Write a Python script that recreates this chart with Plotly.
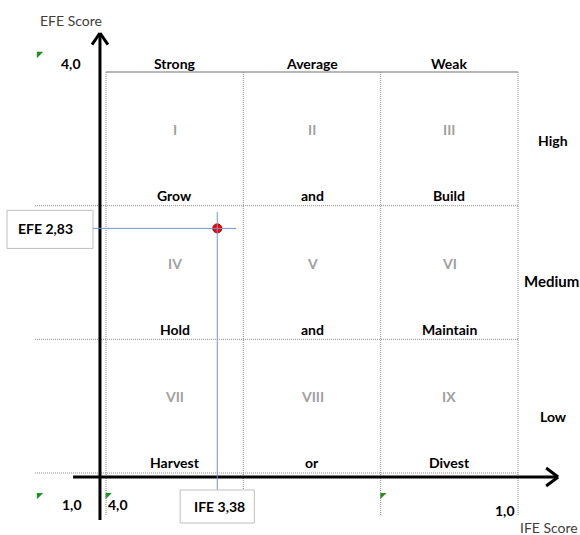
import plotly.graph_objects as go

# ---------------- data ----------------
ife_ticks = [4.0, 3.0, 2.0, 1.0]          # IFE axis (reversed: strong -> weak)
efe_ticks = [4.0, 3.0, 2.0, 1.0]          # EFE axis
col_labels = ["Strong", "Average", "Weak"]
row_labels = ["High", "Medium", "Low"]
cell_numerals = [["I", "II", "III"], ["IV", "V", "VI"], ["VII", "VIII", "IX"]]
cell_strategy = [["Grow", "and", "Build"], ["Hold", "and", "Maintain"], ["Harvest", "or", "Divest"]]
ife_label = "IFE 3,38"
efe_label = "EFE 2,83"
point_ife = 3.19      # marker position as drawn on the IFE scale
point_efe = 2.83
tick_text = {"efe_top": "4,0", "left": "1,0", "ife_left": "4,0", "ife_right": "1,0"}

# ---------------- layout helpers ----------------
FONT = "Lato"
BLACK = "#000000"
GRID = "#8c8c8c"
ife_max, ife_min = max(ife_ticks), min(ife_ticks)
efe_max, efe_min = max(efe_ticks), min(efe_ticks)

fig = go.Figure()
shapes = []
ann = []

def line(x0, y0, x1, y1, color=GRID, width=1, dash="solid"):
    shapes.append(dict(type="line", xref="x", yref="y", x0=x0, y0=y0, x1=x1, y1=y1,
                       line=dict(color=color, width=width, dash=dash), layer="above"))

def text(x, y, s, size=14, bold=True, color=BLACK, xanchor="center"):
    ann.append(dict(x=x, y=y, xref="x", yref="y", text=f"<b>{s}</b>" if bold else s,
                    showarrow=False, xanchor=xanchor, yanchor="middle",
                    font=dict(family=FONT, size=size, color=color)))

# grid: top border solid, others dotted
line(ife_max, efe_max, ife_min, efe_max, color="#6e6e6e", width=1)
for xv in ife_ticks:
    line(xv, efe_max, xv, efe_min - 0.314, dash="1px,1px")
for yv in efe_ticks[1:]:
    line(ife_max + 0.517, yv, ife_min, yv, dash="1px,1px")

# axes with open chevron arrow heads
ax_x = ife_max + 0.044
ax_y = efe_min - 0.030
line(ax_x, efe_min - 0.352, ax_x, efe_max + 0.290, color=BLACK, width=3)
line(ax_x - 0.058, efe_max + 0.205, ax_x, efe_max + 0.292, color=BLACK, width=3)
line(ax_x + 0.058, efe_max + 0.205, ax_x, efe_max + 0.292, color=BLACK, width=3)
line(ife_max + 0.240, ax_y, ife_min - 0.290, ax_y, color=BLACK, width=3)
line(ife_min - 0.205, ax_y + 0.067, ife_min - 0.292, ax_y, color=BLACK, width=3)
line(ife_min - 0.205, ax_y - 0.067, ife_min - 0.292, ax_y, color=BLACK, width=3)

# column headers
for i, c in enumerate(col_labels):
    text(ife_ticks[i] - 0.5, efe_max + 0.067, c)
# cells
for r in range(3):
    top = efe_ticks[r]
    bottom = efe_ticks[r + 1]
    for c in range(3):
        xc = ife_ticks[c] - 0.5
        text(xc, top - 0.43, cell_numerals[r][c], size=14, color="#a0a0a0")
        text(xc, bottom + 0.075, cell_strategy[r][c])
# row labels
text(ife_min - 0.255, 3.49, row_labels[0])
text(ife_min - 0.245, 2.44, row_labels[1], size=15)
text(ife_min - 0.255, 1.42, row_labels[2])

# axis titles and end labels
text(ife_max + 0.255, efe_max + 0.389, "EFE Score", size=14, bold=False, color="#404040")
text(ife_min - 0.226, efe_min - 0.404, "IFE Score", size=14, bold=False, color="#404040")
text(ife_max + 0.255, efe_max + 0.067, tick_text["efe_top"])
text(ife_max + 0.248, efe_min - 0.239, tick_text["left"])
text(ife_max - 0.087, efe_min - 0.239, tick_text["ife_left"])
text(ife_min + 0.095, efe_min - 0.277, tick_text["ife_right"])

# green corner indicators
fig.add_trace(go.Scatter(
    x=[ife_max + 0.5 - 0.012, ife_max + 0.5 - 0.012, ife_max - 0.012, 2.0 - 0.012],
    y=[efe_max + 0.135, efe_min - 0.165, efe_min - 0.165, efe_min - 0.165],
    mode="markers", hoverinfo="skip",
    marker=dict(symbol="triangle-nw", size=7, color="#1f8f1f", line=dict(width=0))))

# guide lines and label boxes
blue = "#7394d2"
efe_box_x0, efe_box_x1 = ife_max + 0.721, ife_max + 0.095
line(efe_box_x1, point_efe, point_ife - 0.138, point_efe, color=blue, width=1)
ife_box_top = efe_min - 0.127
line(point_ife, point_efe + 0.123, point_ife, ife_box_top, color=blue, width=1)

shapes.append(dict(type="rect", xref="x", yref="y", x0=efe_box_x0, x1=efe_box_x1,
                   y0=point_efe - 0.150, y1=point_efe + 0.135,
                   line=dict(color="#bfbfbf", width=1), fillcolor="white", layer="above"))
shapes.append(dict(type="rect", xref="x", yref="y", x0=point_ife + 0.270, x1=point_ife - 0.270,
                   y0=ife_box_top - 0.247, y1=ife_box_top,
                   line=dict(color="#bfbfbf", width=1), fillcolor="white", layer="above"))
text(ife_max + 0.444, point_efe, efe_label)
text(point_ife - 0.016, ife_box_top - 0.127, ife_label)

# the point
fig.add_trace(go.Scatter(x=[point_ife], y=[point_efe], mode="markers", hoverinfo="skip",
                         marker=dict(size=9, color="#ff0000", line=dict(color="#a00000", width=1))))

fig.update_layout(
    width=580, height=535, margin=dict(l=0, r=0, t=0, b=0),
    paper_bgcolor="white", plot_bgcolor="white", showlegend=False,
    xaxis=dict(range=[4.772, 0.5485], visible=False, fixedrange=True),
    yaxis=dict(range=[0.5362, 4.5387], visible=False, fixedrange=True),
    shapes=shapes, annotations=ann,
)
fig.write_html("out.html", config={"displayModeBar": False},
               post_script="document.body.style.margin='0';")
